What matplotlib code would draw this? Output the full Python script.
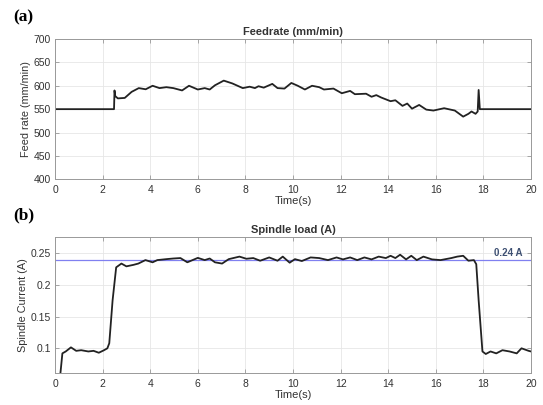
import matplotlib
matplotlib.use("Agg")
import matplotlib.pyplot as plt
import numpy as np

# Feedrate data (mm/min)
feed_t = [0, 2.48, 2.5, 2.53, 2.64, 2.93, 3.22, 3.52, 3.81, 4.1, 4.39, 4.68, 4.97, 5.34, 5.63, 6.0, 6.29,
          6.5, 6.72, 7.09, 7.45, 7.89, 8.18, 8.4, 8.55, 8.77, 9.13, 9.35, 9.64, 9.93, 10.2, 10.5, 10.8,
          11.1, 11.3, 11.7, 12.05, 12.4, 12.6, 13.07, 13.3, 13.5, 13.7, 14.1, 14.3, 14.6, 14.8, 15.0,
          15.3, 15.6, 15.9, 16.35, 16.8, 17.15, 17.37, 17.5, 17.67, 17.76, 17.8, 17.85, 20]
feed_v = [550, 550, 590, 578, 573, 574, 587, 595, 592.5, 600, 595, 597, 595, 590, 600, 592, 595,
          592, 601, 611, 605, 595, 598, 595, 599, 596, 604, 595, 594, 606, 600, 592, 600,
          597, 592, 594, 584, 589, 582, 583, 576.5, 580, 575, 567, 569, 557, 562, 551,
          559, 549, 547, 552, 547, 534, 540, 545, 540, 545, 591, 550, 550]

# Spindle load data (A)
load_t = [0.2, 0.31, 0.45, 0.67, 0.89, 1.1, 1.4, 1.62, 1.84, 2.06, 2.2, 2.28, 2.42, 2.57, 2.79, 3.0,
          3.3, 3.5, 3.8, 4.1, 4.3, 4.68, 4.97, 5.27, 5.56, 6.0, 6.29, 6.5, 6.72, 7.02, 7.3, 7.75,
          8.04, 8.33, 8.62, 9.0, 9.35, 9.57, 9.86, 10.08, 10.37, 10.74, 11.1, 11.47, 11.83, 12.1,
          12.4, 12.7, 13.0, 13.3, 13.6, 13.9, 14.1, 14.3, 14.5, 14.75, 14.97, 15.2, 15.48, 15.84,
          16.2, 16.65, 16.9, 17.15, 17.37, 17.6, 17.7, 17.8, 17.96, 18.1, 18.3, 18.54, 18.8, 19.1,
          19.4, 19.6, 19.9, 20.0]
load_v = [0.05, 0.092, 0.095, 0.1015, 0.096, 0.097, 0.095, 0.096, 0.093, 0.097, 0.1, 0.108, 0.176,
          0.228, 0.234, 0.2296, 0.232, 0.234, 0.2395, 0.236, 0.2395, 0.241, 0.242, 0.2427, 0.236,
          0.243, 0.2395, 0.242, 0.236, 0.234, 0.241, 0.245, 0.2416, 0.2427, 0.2385, 0.2437, 0.2385,
          0.245, 0.2354, 0.241, 0.238, 0.2437, 0.2427, 0.2395, 0.2437, 0.2406, 0.2437, 0.2395,
          0.2437, 0.2406, 0.245, 0.2427, 0.2463, 0.2427, 0.248, 0.2406, 0.2463, 0.2395, 0.245,
          0.2406, 0.2395, 0.2427, 0.245, 0.2463, 0.2385, 0.2395, 0.233, 0.176, 0.095, 0.091, 0.095,
          0.092, 0.097, 0.095, 0.092, 0.1, 0.096, 0.095]
ref_level = 0.24

fig = plt.figure(figsize=(5.43, 4.05), dpi=100)
plt.rcParams['font.family'] = ['Liberation Sans', 'DejaVu Sans']

ax1 = fig.add_axes([0.1013, 0.5573, 0.8766, 0.3464])
ax2 = fig.add_axes([0.1013, 0.0783, 0.8766, 0.3365])

txtc = '#333333'
for ax in (ax1, ax2):
    ax.set_xlim(0, 20)
    ax.set_xticks(np.arange(0, 21, 2))
    ax.grid(True, color='#e6e6e6', linewidth=0.6)
    ax.set_axisbelow(True)
    ax.tick_params(direction='in', top=True, right=True, labelsize=7.5, colors=txtc,
                   length=3, width=0.5, color='#888888')
    ax.tick_params(axis='x', pad=4)
    ax.tick_params(axis='y', pad=3)
    for s in ax.spines.values():
        s.set_color('#999999')
        s.set_linewidth(0.7)

ax1.plot(feed_t, feed_v, color='#222222', linewidth=1.3)
ax1.set_ylim(400, 700)
ax1.set_yticks(np.arange(400, 701, 50))
ax1.set_title('Feedrate (mm/min)', fontsize=8, fontweight='bold', color=txtc, pad=3)
ax1.set_ylabel('Feed rate (mm/min)', fontsize=7.8, color=txtc, labelpad=2)
ax1.set_xlabel('Time(s)', fontsize=8, color=txtc, labelpad=1)

ax2.axhline(ref_level, color='#8080f0', linewidth=0.9)
ax2.plot(load_t, load_v, color='#222222', linewidth=1.3)
ax2.set_ylim(0.0605, 0.276)
ax2.set_yticks([0.1, 0.15, 0.2, 0.25])
ax2.set_yticklabels(['0.1', '0.15', '0.2', '0.25'])
ax2.set_title('Spindle load (A)', fontsize=8, fontweight='bold', color=txtc, pad=3)
ax2.set_ylabel('Spindle Current (A)', fontsize=7.8, color=txtc, labelpad=2)
ax2.set_xlabel('Time(s)', fontsize=8, color=txtc, labelpad=1)
ax2.text(19.66, ref_level + 0.0025, '0.24 A', fontsize=7, fontweight='bold',
         color='#3d4f72', ha='right', va='bottom')

fig.text(0.024, 0.948, '(a)', fontsize=12.5, fontweight='bold', family='Liberation Serif',
         va='baseline')
fig.text(0.024, 0.459, '(b)', fontsize=12.5, fontweight='bold', family='Liberation Serif',
         va='baseline')

fig.savefig('out.png', dpi=100)
